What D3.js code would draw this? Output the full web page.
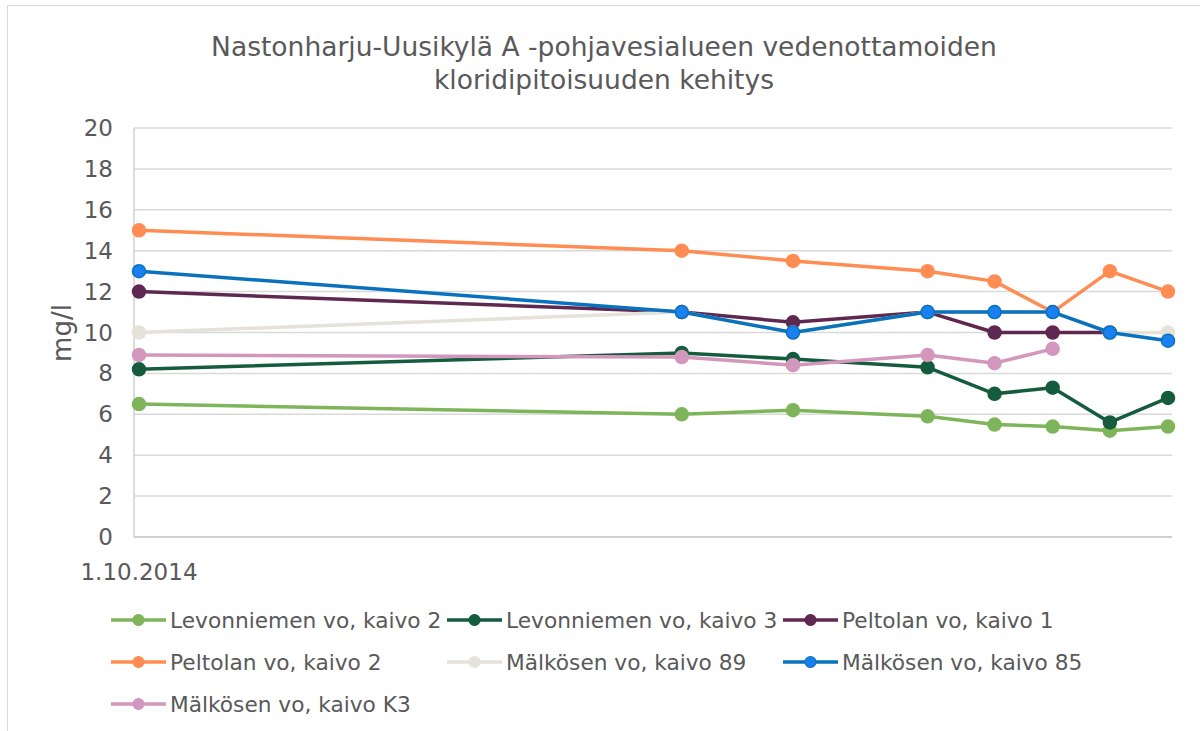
<!DOCTYPE html>
<html>
<head>
<meta charset="utf-8">
<script src="https://cdn.jsdelivr.net/npm/d3@7"></script>
<style>
  body { margin: 0; background: #fff; }
  text { font-family: "DejaVu Sans", Verdana, sans-serif; fill: #595959; }
</style>
</head>
<body>
<svg width="1200" height="731"></svg>
<script>
// Data
var dates = ["2014-10-01", "2019-06-15", "2020-06-01", "2021-08-01",
    "2022-03-01", "2022-09-01", "2023-03-01", "2023-09-01"];
var seriesNames = ["Levonniemen vo, kaivo 2", "Levonniemen vo, kaivo 3", "Peltolan vo, kaivo 1",
    "Peltolan vo, kaivo 2", "Mälkösen vo, kaivo 89", "Mälkösen vo, kaivo 85", "Mälkösen vo, kaivo K3"];
var levonniemi2 = [6.5, 6.0, 6.2, 5.9, 5.5, 5.4, 5.2, 5.4];
var levonniemi3 = [8.2, 9.0, 8.7, 8.3, 7.0, 7.3, 5.6, 6.8];
var peltola1 = [12, 11, 10.5, 11, 10, 10, 10, null];
var peltola2 = [15, 14, 13.5, 13, 12.5, 11, 13, 12];
var malkonen89 = [10, 11, 10, 11, 11, 11, 10, 10];
var malkonen85 = [13, 11, 10, 11, 11, 11, 10, 9.6];
var malkonenK3 = [8.9, 8.8, 8.4, 8.9, 8.5, 9.2, null, null];
var yTicks = [0, 2, 4, 6, 8, 10, 12, 14, 16, 18, 20];

var lineColors = ["#7fb55a", "#155c3e", "#5f2850", "#ff8c52", "#e5e2d9", "#0a72bd", "#d397bd"];
var markerColors = ["#7fb55a", "#155c3e", "#5f2850", "#ff8c52", "#e5e2d9", "#1a80f2", "#d397bd"];
var allValues = [levonniemi2, levonniemi3, peltola1, peltola2, malkonen89, malkonen85, malkonenK3];

var parse = d3.timeParse("%Y-%m-%d");
var svg = d3.select("svg");

// chart border
svg.append("rect")
    .attr("x", 7.5).attr("y", 5.5)
    .attr("width", 1200).attr("height", 740)
    .attr("fill", "none").attr("stroke", "#d9d9d9").attr("stroke-width", 1);

// plot area
var plotLeft = 134, plotRight = 1172, plotTop = 128, plotBottom = 537;

var x = d3.scaleTime()
    .domain([parse(dates[0]), parse(dates[dates.length - 1])])
    .range([139, 1168]);
var y = d3.scaleLinear().domain([0, 20]).range([plotBottom, plotTop]);

// title
var title = svg.append("text")
    .attr("text-anchor", "middle")
    .attr("font-size", "26.5px");
title.append("tspan").attr("x", 604).attr("y", 56)
    .text("Nastonharju-Uusikylä A -pohjavesialueen vedenottamoiden");
title.append("tspan").attr("x", 604).attr("y", 89)
    .text("kloridipitoisuuden kehitys");

// gridlines
svg.append("g")
    .selectAll("line")
    .data(yTicks.slice(1))
    .enter().append("line")
    .attr("x1", plotLeft).attr("x2", plotRight)
    .attr("y1", function (d) { return y(d); })
    .attr("y2", function (d) { return y(d); })
    .attr("stroke", "#d9d9d9").attr("stroke-width", 1.5);

// axes lines
svg.append("line")
    .attr("x1", plotLeft).attr("x2", plotRight)
    .attr("y1", y(0)).attr("y2", y(0))
    .attr("stroke", "#bfbfbf").attr("stroke-width", 1.5);
svg.append("line")
    .attr("x1", plotLeft).attr("x2", plotLeft)
    .attr("y1", plotTop).attr("y2", plotBottom)
    .attr("stroke", "#d0d0d0").attr("stroke-width", 1.5);

// y tick labels
svg.append("g")
    .selectAll("text")
    .data(yTicks)
    .enter().append("text")
    .attr("x", 113)
    .attr("y", function (d) { return y(d) + 8; })
    .attr("text-anchor", "end")
    .attr("font-size", "23px")
    .text(function (d) { return d; });

// y axis title
svg.append("text")
    .attr("transform", "translate(71," + 333 + ") rotate(-90)")
    .attr("text-anchor", "middle")
    .attr("font-size", "26px")
    .text("mg/l");

// x tick label
svg.append("text")
    .attr("x", x(parse(dates[0])))
    .attr("y", 580)
    .attr("text-anchor", "middle")
    .attr("font-size", "23px")
    .text("1.10.2014");

// series
var line = d3.line()
    .defined(function (d) { return d.v !== null; })
    .x(function (d) { return x(d.date); })
    .y(function (d) { return y(d.v); });

allValues.forEach(function (vals, i) {
    var pts = vals.map(function (v, j) { return { date: parse(dates[j]), v: v }; });
    var g = svg.append("g");
    g.append("path")
        .attr("d", line(pts))
        .attr("fill", "none")
        .attr("stroke", lineColors[i])
        .attr("stroke-width", 3.5)
        .attr("stroke-linejoin", "round");
    g.selectAll("circle")
        .data(pts.filter(function (d) { return d.v !== null; }))
        .enter().append("circle")
        .attr("cx", function (d) { return x(d.date); })
        .attr("cy", function (d) { return y(d.v); })
        .attr("r", 6.5)
        .attr("fill", markerColors[i])
        .attr("stroke", lineColors[i])
        .attr("stroke-width", 1.5);
});

// legend
var legend = svg.append("g");
seriesNames.forEach(function (name, i) {
    var lx = 111 + (i % 3) * 336;
    var ly = 620 + Math.floor(i / 3) * 42;
    legend.append("line")
        .attr("x1", lx).attr("x2", lx + 55)
        .attr("y1", ly).attr("y2", ly)
        .attr("stroke", lineColors[i]).attr("stroke-width", 3.5);
    legend.append("circle")
        .attr("cx", lx + 27.5).attr("cy", ly).attr("r", 5.5)
        .attr("fill", markerColors[i])
        .attr("stroke", lineColors[i]).attr("stroke-width", 1.2);
    legend.append("text")
        .attr("x", lx + 59).attr("y", ly + 7.5)
        .attr("font-size", "21.7px")
        .text(name);
});
</script>
</body>
</html>
